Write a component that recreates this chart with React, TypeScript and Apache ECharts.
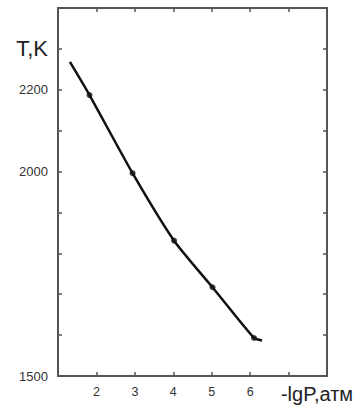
import React, { useEffect, useRef } from "react";
import * as echarts from "echarts";

// Measured points (-lgP, T)
const measuredX = [1.82, 2.94, 4.02, 5.02, 6.1];
const measuredT = [2187, 1996, 1831, 1717, 1593];
// Curve through them, including its two ends
const curveX = [1.31, 1.82, 2.94, 4.02, 5.02, 6.1, 6.31];
const curveT = [2268, 2187, 1996, 1831, 1717, 1593, 1587];
const xLabelTicks = [2, 3, 4, 5, 6];
const yLabelTicks = [1500, 2000, 2200];
const yName = "T,K";
const xName = "-lgP,атм";

export default function App() {
  const ref = useRef<HTMLDivElement>(null);
  useEffect(() => {
    if (!ref.current) return;
    const chart = echarts.init(ref.current, undefined, { renderer: "svg" });
    const axisColor = "#555";
    const font = "Liberation Sans, Arial, sans-serif";
    const commonX = {
      type: "value" as const,
      min: 1,
      max: 8,
      interval: 1,
      splitLine: { show: false },
      axisLine: { show: true, lineStyle: { color: axisColor, width: 2 } },
      axisTick: { show: true, inside: true, length: 4, lineStyle: { color: axisColor, width: 1.5 } },
    };
    const commonY = {
      type: "value" as const,
      min: 1500,
      max: 2400,
      interval: 100,
      splitLine: { show: false },
      axisLine: { show: true, lineStyle: { color: axisColor, width: 2 } },
      axisTick: { show: true, inside: true, length: 4, lineStyle: { color: axisColor, width: 1.5 } },
    };
    chart.setOption({
      animation: false,
      grid: { left: 58, top: 8, right: 33, bottom: 34, containLabel: false },
      xAxis: [
        {
          ...commonX,
          position: "bottom",
          axisLabel: {
            margin: 9,
            fontSize: 12.5,
            color: "#333",
            fontFamily: font,
            formatter: (v: number) => (xLabelTicks.includes(v) ? String(v) : ""),
          },
        },
        { ...commonX, position: "top", axisLabel: { show: false } },
      ],
      yAxis: [
        {
          ...commonY,
          position: "left",
          axisLabel: {
            margin: 10,
            fontSize: 13,
            color: "#333",
            fontFamily: font,
            formatter: (v: number) =>
              v === 2300 ? "{big|" + yName + "}" : yLabelTicks.includes(v) ? String(v) : "",
            rich: { big: { fontSize: 22, color: "#222", fontFamily: font } },
          },
        },
        { ...commonY, position: "right", axisLabel: { show: false } },
      ],
      graphic: [
        {
          type: "text",
          x: 317,
          y: 404,
          style: {
            text: xName,
            fontSize: 20,
            fill: "#222",
            fontFamily: font,
            align: "center",
            verticalAlign: "bottom",
          },
        },
      ],
      series: [
        {
          type: "line",
          xAxisIndex: 0,
          yAxisIndex: 0,
          data: curveX.map((x, i) => [x, curveT[i]]),
          symbol: "none",
          smooth: 0.2,
          lineStyle: { color: "#111", width: 2.5 },
        },
        {
          type: "scatter",
          xAxisIndex: 0,
          yAxisIndex: 0,
          data: measuredX.map((x, i) => [x, measuredT[i]]),
          symbol: "circle",
          symbolSize: 6,
          itemStyle: { color: "#111" },
        },
      ],
    });
    return () => chart.dispose();
  }, []);
  return (
    <div
      ref={ref}
      style={{ position: "absolute", left: 0, top: 0, width: 360, height: 410 }}
    />
  );
}
